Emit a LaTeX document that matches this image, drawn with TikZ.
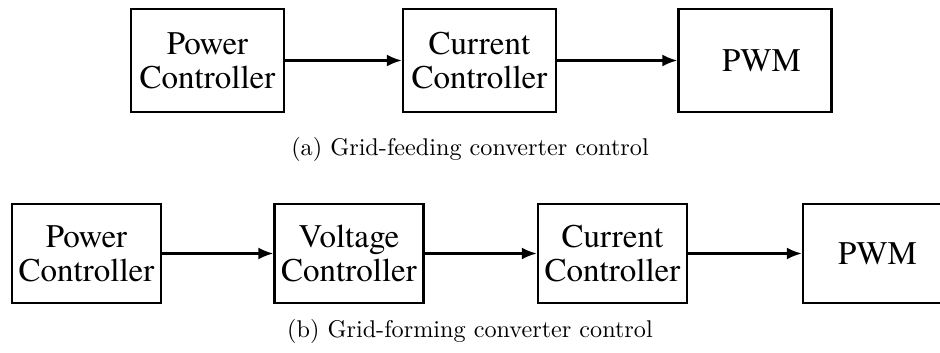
\documentclass[tikz,border=0pt]{standalone}
\usepackage{fontspec}
\newfontfamily\boxfont{texgyretermes-regular}[Extension=.otf]
\newfontfamily\capfont{lmroman10-regular}[Extension=.otf]
\usetikzlibrary{arrows.meta}
\tikzset{
  blk/.style={draw=black, line width=2.4pt, rectangle, align=center,
    font=\boxfont\fontsize{33}{34}\selectfont, inner sep=0pt},
  blkA/.style={blk, minimum width=153pt, minimum height=103pt},
  blkB/.style={blk, minimum width=149pt, minimum height=99pt},
  conn/.style={line width=2.2pt, -{Latex[length=15pt,width=12pt]}},
  capt/.style={font=\capfont\fontsize{24.2}{29}\selectfont, anchor=base, inner sep=0pt}
}
\begin{document}
\begin{tikzpicture}[x=1pt,y=-1pt]
\useasboundingbox (0,0) rectangle (940,353);
\clip (0,0) rectangle (940,353);
% (a)
\node[blkA] (a1) at (207.5,60.5) {Power\\Controller};
\node[blkA] (a2) at (479.5,60.5) {Current\\Controller};
\node[blkA] (a3) at (755,60.5) {\hspace*{13pt}PWM};
\draw[conn] (a1) -- (a2);
\draw[conn] (a2) -- (a3);
\node[capt] (ca) at (470,155) {(a) Grid-feeding converter control};
% (b)
\node[blkB] (b1) at (86.5,253.5) {Power\\Controller};
\node[blkB] (b2) at (349,253.5) {Voltage\\Controller};
\node[blkB] (b3) at (612.5,253.5) {Current\\Controller};
\node[blkB] (b4) at (877.5,253.5) {PWM};
\draw[conn] (b1) -- (b2);
\draw[conn] (b2) -- (b3);
\draw[conn] (b3) -- (b4);
\node[capt] (cb) at (470,337) {(b) Grid-forming converter control};
\end{tikzpicture}
\end{document}
